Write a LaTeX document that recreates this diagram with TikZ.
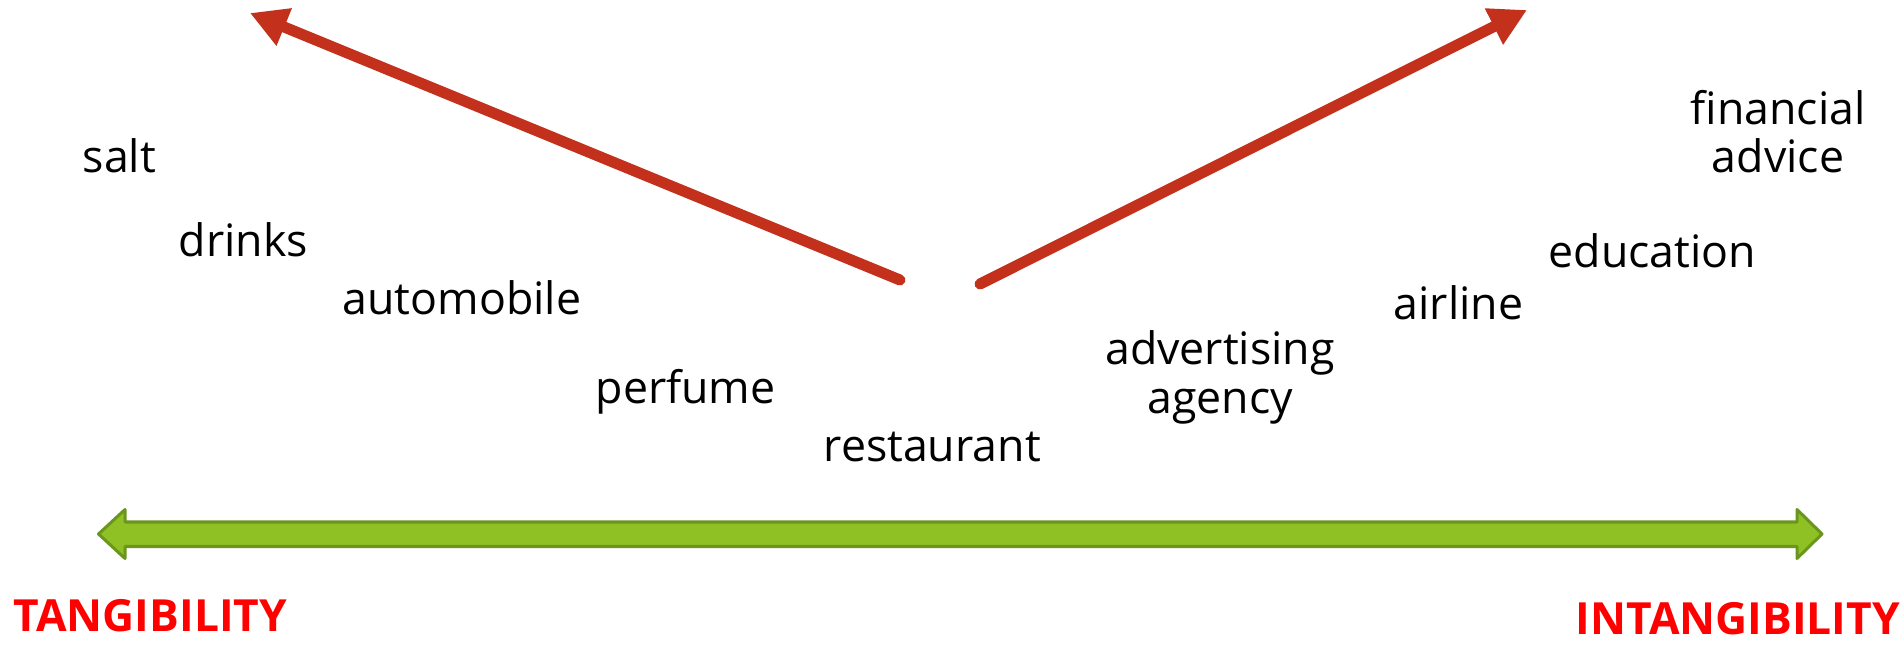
\documentclass[tikz,border=0pt]{standalone}
\usepackage{fontspec}
\setmainfont{Open Sans}
\usetikzlibrary{arrows.meta}
\definecolor{arrowred}{RGB}{195,49,29}
\definecolor{barfill}{RGB}{143,193,36}
\definecolor{barline}{RGB}{106,150,30}
\definecolor{endred}{RGB}{255,0,0}

\begin{document}
\begin{tikzpicture}[x=0.01cm,y=-0.01cm,
  item/.style={font=\fontsize{12.7}{13.8}\selectfont,inner sep=0pt,anchor=base west,align=center},
  pole/.style={font=\fontsize{12.6}{14}\selectfont\bfseries,text=endred,inner sep=0pt,anchor=base west},
  trend/.style={draw=arrowred,line width=0.11cm,line cap=round,-{Triangle[length=0.37cm,width=0.38cm]}}]
\useasboundingbox (0,0) rectangle (1903,646);
% goods and services along the scale
\node[item] (salt) at (82,173) {salt};
\node[item] (drinks) at (178,257) {drinks};
\node[item] (automobile) at (342,315) {automobile};
\node[item] (perfume) at (595,403) {perfume};
\node[item] (restaurant) at (823,462) {restaurant};
\node[item,anchor=base] (advertising) at (1220,413) {advertising\\agency};
\node[item] (airline) at (1393,320) {airline};
\node[item] (education) at (1548,268) {education};
\node[item,anchor=base] (financial) at (1778,173) {financial\\advice};
% the two trends
\coordinate (goodsTail) at (900,280);
\coordinate (goodsTip) at (250,13);
\coordinate (servTail) at (980,284);
\coordinate (servTip) at (1527,10);
\draw[trend] (goodsTail) -- (goodsTip);
\draw[trend] (servTail) -- (servTip);
% the scale
\filldraw[fill=barfill,draw=barline,line width=0.03cm,line join=round]
  (98.5,534) -- (125,509.5) -- (125,522) -- (1797,522) -- (1797,509.5) -- (1822,534)
  -- (1797,558.5) -- (1797,546.5) -- (125,546.5) -- (125,558.5) -- cycle;
\node[pole] (tangible) at (13,631) {TANGIBILITY};
\node[pole] (intangible) at (1575,634) {INTANGIBILITY};
\end{tikzpicture}
\end{document}
